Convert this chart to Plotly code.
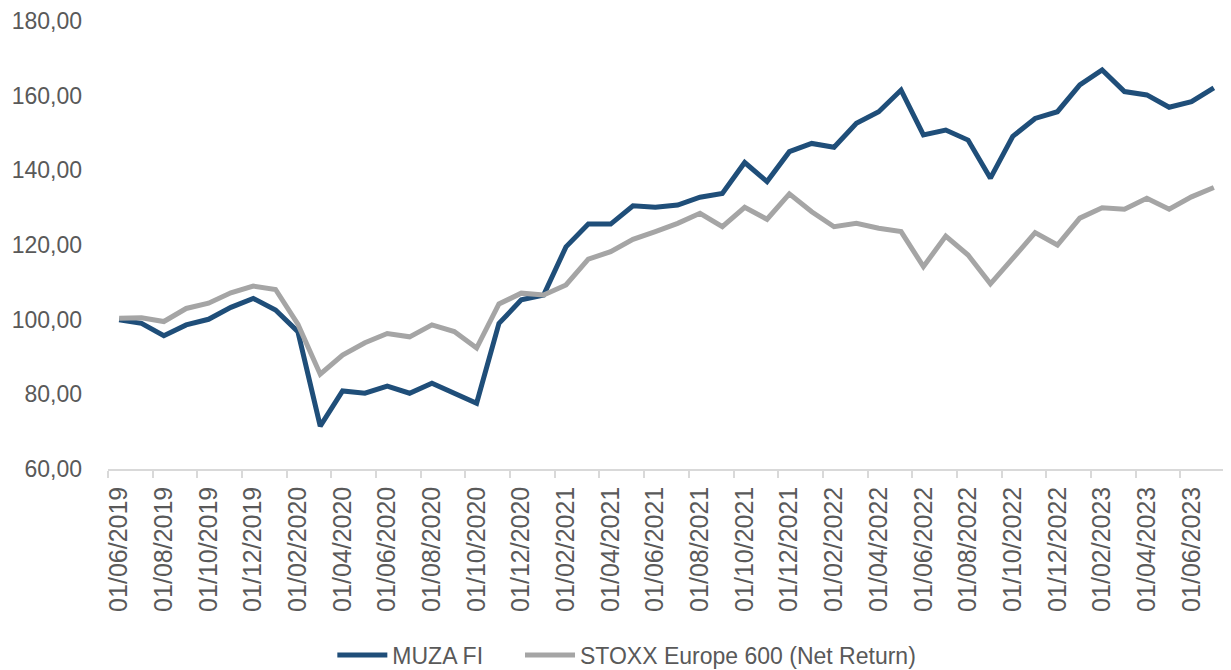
import plotly.graph_objects as go
import pandas as pd

# Monthly observation dates (first of month), June 2019 - July 2023
dates = pd.date_range("2019-06-01", "2023-07-01", freq="MS").strftime("%d/%m/%Y").tolist()

muza_fi = [
    100.0, 99.0, 95.7, 98.6, 100.1, 103.3, 105.7, 102.6, 96.8, 71.5,
    80.9, 80.3, 82.2, 80.3, 83.0, 80.3, 77.6, 99.0, 105.3, 106.6,
    119.5, 125.6, 125.6, 130.5, 130.1, 130.7, 132.8, 133.8, 142.1, 137.0,
    145.0, 147.2, 146.2, 152.6, 155.7, 161.5, 149.5, 150.8, 148.1, 137.9,
    149.1, 153.9, 155.7, 162.9, 166.9, 161.1, 160.2, 156.9, 158.4, 162.1,
]
stoxx_600 = [
    100.4, 100.5, 99.5, 103.0, 104.4, 107.2, 109.0, 108.1, 98.8, 85.4,
    90.5, 93.8, 96.3, 95.4, 98.6, 96.8, 92.4, 104.2, 107.1, 106.6,
    109.3, 116.2, 118.2, 121.5, 123.6, 125.8, 128.5, 124.9, 130.1, 126.9,
    133.7, 128.9, 124.9, 125.8, 124.5, 123.6, 114.2, 122.4, 117.3, 109.6,
    116.4, 123.3, 120.0, 127.2, 130.0, 129.6, 132.5, 129.6, 132.9, 135.4,
]

tick_labels = [
    "01/06/2019", "01/08/2019", "01/10/2019", "01/12/2019", "01/02/2020",
    "01/04/2020", "01/06/2020", "01/08/2020", "01/10/2020", "01/12/2020",
    "01/02/2021", "01/04/2021", "01/06/2021", "01/08/2021", "01/10/2021",
    "01/12/2021", "01/02/2022", "01/04/2022", "01/06/2022", "01/08/2022",
    "01/10/2022", "01/12/2022", "01/02/2023", "01/04/2023", "01/06/2023",
]
y_ticks = [60, 80, 100, 120, 140, 160, 180]

x_idx = list(range(len(dates)))
tick_pos = [dates.index(t) for t in tick_labels]

FONT = "Liberation Sans"
TXT = "#595959"
NBSP = "\u00a0"

fig = go.Figure()
fig.add_trace(go.Scatter(x=x_idx, y=muza_fi, mode="lines",
                         name="MUZA FI" + NBSP * 5,
                         line=dict(color="#1F4E79", width=5), customdata=dates,
                         hovertemplate="%{customdata}<br>%{y:.2f}<extra>MUZA FI</extra>"))
fig.add_trace(go.Scatter(x=x_idx, y=stoxx_600, mode="lines",
                         name="STOXX Europe 600 (Net Return)",
                         line=dict(color="#A5A5A5", width=5), customdata=dates,
                         hovertemplate="%{customdata}<br>%{y:.2f}<extra>STOXX Europe 600 (Net Return)</extra>"))

# The page body has an 8px margin; the figure is offset by it.
fig.update_layout(
    width=1223, height=662,
    margin=dict(l=100, r=6, t=13, b=201, autoexpand=False),
    paper_bgcolor="white", plot_bgcolor="white",
    font=dict(family=FONT, color=TXT, size=23),
    showlegend=True,
    legend=dict(orientation="h", xref="container", yref="container",
                x=0.506, xanchor="center", y=0.0227, yanchor="middle",
                font=dict(size=23, color=TXT, family=FONT),
                itemwidth=50, tracegroupgap=0),
    xaxis=dict(
        range=[-0.5, len(dates) - 0.5], automargin=False,
        tickmode="array", tickvals=tick_pos, ticktext=tick_labels,
        tickangle=-90, ticks="", showgrid=False, zeroline=False,
        showline=True, linecolor="#D9D9D9", linewidth=1.5,
        tickfont=dict(size=25, color=TXT, family=FONT),
        ticklabelstandoff=6,
        minor=dict(tick0=-0.5, dtick=2, ticks="outside", ticklen=7,
                   tickcolor="#D9D9D9", tickwidth=1.5, showgrid=False),
        fixedrange=True,
    ),
    yaxis=dict(
        range=[60, 180], tickmode="array", tickvals=y_ticks, automargin=False,
        ticktext=[f"{v:.2f}".replace(".", ",") for v in y_ticks],
        showgrid=False, zeroline=False, showline=False, ticks="",
        tickfont=dict(size=23, color=TXT, family=FONT),
        ticklabelstandoff=25,
        fixedrange=True,
    ),
)

fig.write_html("out.html")
